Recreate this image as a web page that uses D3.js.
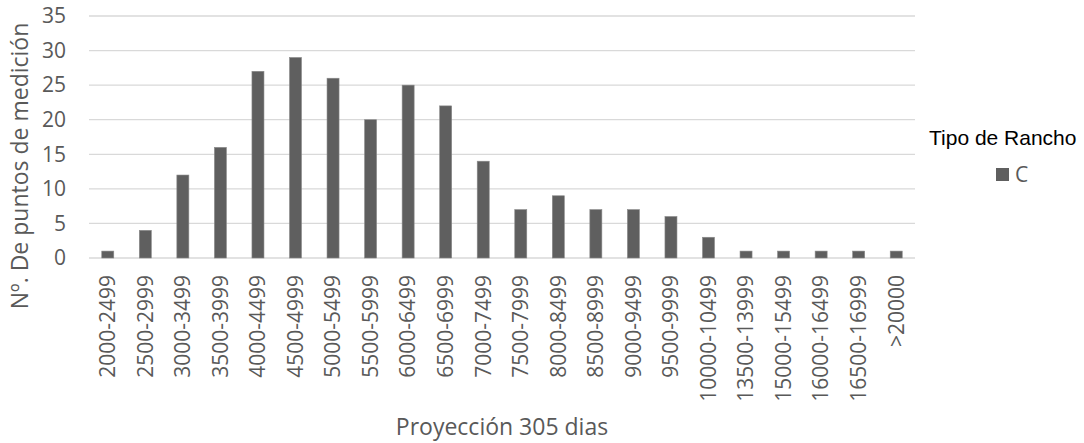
<!DOCTYPE html>
<html><head><meta charset="utf-8">
<script src="https://cdn.jsdelivr.net/npm/d3@7"></script>
<style>body{margin:0;background:#fff}svg{display:block}</style>
</head><body>
<script>
const categories = ["2000-2499","2500-2999","3000-3499","3500-3999","4000-4499","4500-4999","5000-5499","5500-5999","6000-6499","6500-6999","7000-7499","7500-7999","8000-8499","8500-8999","9000-9499","9500-9999","10000-10499","13500-13999","15000-15499","16000-16499","16500-16999",">20000"];
const valuesC = [1,4,12,16,27,29,26,20,25,22,14,7,9,7,7,6,3,1,1,1,1,1];
const yTicks = [0,5,10,15,20,25,30,35];
const seriesName = "C";
const legendTitle = "Tipo de Rancho";
const xTitle = "Proyección 305 dias";
const yTitle = "Nº. De puntos de medición";

const W = 1084, H = 443;
const pLeft = 89, pRight = 915, pTop = 16, pBottom = 258;
const font = "'Open Sans', sans-serif";
const txt = "#595959";

const svg = d3.select("body").append("svg").attr("width", W).attr("height", H);
const x = d3.scaleBand().domain(categories).range([pLeft, pRight]).paddingInner(0.68).paddingOuter(0.34);
const y = d3.scaleLinear().domain([0, 35]).range([pBottom, pTop]);

// gridlines
svg.append("g").selectAll("line").data(yTicks).join("line")
  .attr("x1", pLeft).attr("x2", pRight)
  .attr("y1", d => y(d)).attr("y2", d => y(d))
  .attr("stroke", "#d9d9d9").attr("stroke-width", 1.3);

// y axis labels
const ya = svg.append("g").attr("transform", `translate(${pLeft},0)`)
  .call(d3.axisLeft(y).tickValues(yTicks).tickSize(0).tickPadding(23));
ya.select(".domain").remove();
ya.selectAll("text").attr("font-family", font).attr("font-size", 21).attr("fill", txt);

// bars
svg.append("g").selectAll("rect").data(valuesC).join("rect")
  .attr("x", (d,i) => x(categories[i]))
  .attr("width", x.bandwidth())
  .attr("y", d => y(d))
  .attr("height", d => y(0) - y(d))
  .attr("fill", "#5f5f5f").attr("stroke", "#8a8a8a").attr("stroke-width", 0.6);

// x axis
const xa = svg.append("g").attr("transform", `translate(0,${pBottom})`)
  .call(d3.axisBottom(x).tickSize(0).tickPadding(0));
xa.select(".domain").remove();
xa.selectAll("text")
  .attr("font-family", font).attr("font-size", 21).attr("fill", txt)
  .attr("transform", "rotate(-90)")
  .attr("text-anchor", "end")
  .attr("x", -17).attr("y", 0).attr("dy", "0.35em");

// axis titles
svg.append("text").attr("x", (pLeft+pRight)/2).attr("y", 435)
  .attr("text-anchor", "middle").attr("font-family", font).attr("font-size", 23).attr("fill", txt)
  .text(xTitle);
svg.append("text").attr("transform", `translate(28,166) rotate(-90)`)
  .attr("text-anchor", "middle").attr("font-family", font).attr("font-size", 23).attr("fill", txt)
  .text(yTitle);

// legend
svg.append("text").attr("x", 929).attr("y", 145)
  .attr("font-family", "'Liberation Sans', Arial, sans-serif").attr("font-size", 21).attr("fill", "#000")
  .text(legendTitle);
svg.append("rect").attr("x", 996).attr("y", 168).attr("width", 13).attr("height", 13).attr("fill", "#5f5f5f");
svg.append("text").attr("x", 1015).attr("y", 182)
  .attr("font-family", font).attr("font-size", 21).attr("fill", txt).text(seriesName);
</script>
</body></html>
